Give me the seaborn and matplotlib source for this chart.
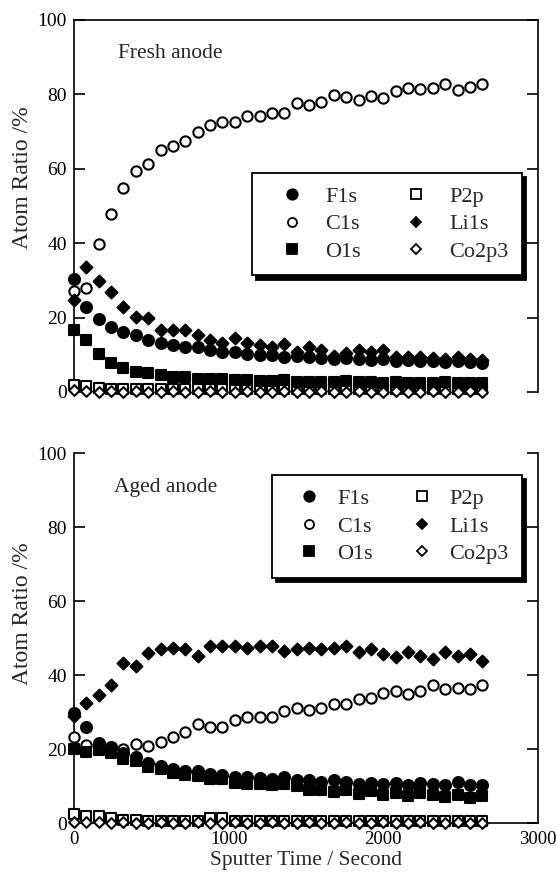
import matplotlib
matplotlib.use("Agg")
import matplotlib.pyplot as plt
from matplotlib.lines import Line2D
import seaborn as sns
import pandas as pd

# ---------------- data ----------------
time_s = [0, 80, 160, 240, 320, 400, 480, 560, 640, 720, 800, 880, 960, 1040,
          1120, 1200, 1280, 1360, 1440, 1520, 1600, 1680, 1760, 1840, 1920, 2000,
          2080, 2160, 2240, 2320, 2400, 2480, 2560, 2640]

# Fresh anode
fresh_F1s = [30.3, 22.8, 19.6, 17.6, 16.0, 15.3, 14.0, 13.3, 12.6, 12.0, 12.0, 11.3,
             10.8, 10.8, 10.2, 9.9, 9.9, 9.5, 9.7, 9.3, 9.2, 9.0, 9.1, 8.8, 8.7, 8.8,
             8.4, 8.5, 8.3, 8.2, 8.1, 8.3, 8.0, 7.9]
fresh_C1s = [27.2, 27.9, 39.8, 47.8, 54.8, 59.5, 61.2, 65.1, 66.1, 67.6, 69.8, 71.8,
             72.5, 72.5, 74.2, 74.2, 75.1, 75.1, 77.6, 77.2, 78.0, 79.8, 79.2, 78.5,
             79.6, 78.9, 81.0, 81.8, 81.4, 81.6, 82.7, 81.2, 82.1, 82.7]
fresh_O1s = [16.8, 14.0, 10.2, 7.7, 6.4, 5.5, 5.0, 4.6, 4.1, 3.9, 3.5, 3.6, 3.4, 3.1,
             3.2, 3.0, 2.9, 3.1, 2.8, 2.7, 2.8, 2.6, 2.9, 2.7, 2.6, 2.5, 2.7, 2.5, 2.4,
             2.5, 2.6, 2.4, 2.3, 2.4]
fresh_P2p = [1.8, 1.6, 1.1, 0.7, 0.9, 0.8, 0.9, 0.7, 0.8, 0.7, 0.8, 0.7, 0.8, 0.7,
             0.7, 0.8, 0.7, 0.8, 0.7, 0.7, 0.8, 0.7, 0.8, 0.7, 0.7, 0.8, 0.7, 0.7, 0.8,
             0.7, 0.7, 0.8, 0.7, 0.7]
fresh_Li1s = [24.7, 33.7, 29.9, 26.8, 22.9, 20.1, 19.8, 16.8, 16.8, 16.8, 15.3, 14.0,
              13.1, 14.6, 13.1, 12.7, 12.2, 12.9, 10.8, 12.0, 11.4, 9.8, 10.4, 11.4,
              10.8, 11.3, 9.5, 9.5, 9.5, 9.2, 9.0, 9.5, 9.0, 8.6]
fresh_Co2p3 = [0.5, 0.2, 0.1, 0.2, 0.1, 0.2, 0.1, 0.1, 0.2, 0.1, 0.1, 0.2, 0.1, 0.1,
               0.2, 0.1, 0.1, 0.2, 0.1, 0.1, 0.2, 0.1, 0.1, 0.2, 0.1, 0.1, 0.2, 0.1,
               0.1, 0.2, 0.1, 0.1, 0.2, 0.1]

# Aged anode
aged_F1s = [29.8, 26.0, 21.5, 20.5, 19.0, 17.8, 16.3, 15.4, 14.6, 14.0, 14.0, 13.2,
            13.0, 12.4, 12.5, 12.2, 12.0, 12.3, 11.6, 11.5, 11.1, 11.7, 11.0, 10.6,
            10.8, 10.5, 10.9, 10.4, 10.7, 10.5, 10.2, 11.0, 10.4, 10.3]
aged_C1s = [23.3, 21.0, 20.3, 20.6, 19.9, 21.4, 20.9, 22.0, 23.3, 24.5, 26.7, 25.9,
            25.9, 27.9, 28.6, 28.6, 28.6, 30.3, 31.2, 30.5, 31.2, 32.1, 32.1, 33.4,
            33.9, 35.2, 35.7, 35.0, 35.7, 37.3, 36.1, 36.4, 36.1, 37.3]
aged_O1s = [19.9, 19.1, 19.6, 19.0, 17.4, 16.8, 15.2, 14.5, 13.5, 13.0, 12.8, 12.0,
            11.8, 10.8, 10.6, 10.5, 10.3, 10.6, 10.0, 8.8, 9.0, 8.5, 9.0, 7.8, 8.7,
            7.5, 8.2, 7.4, 8.0, 7.6, 7.0, 7.6, 6.8, 7.2]
aged_P2p = [2.5, 1.8, 1.8, 1.3, 0.9, 0.8, 0.5, 0.5, 0.5, 0.5, 0.6, 1.3, 1.3, 0.5,
            0.5, 0.5, 0.5, 0.5, 0.5, 0.5, 0.5, 0.5, 0.5, 0.5, 0.5, 0.6, 0.5, 0.5,
            0.5, 0.5, 0.5, 0.5, 0.5, 0.5]
aged_Li1s = [29.0, 32.3, 34.6, 37.3, 43.2, 42.3, 45.9, 47.0, 47.4, 47.0, 45.1, 47.8,
             47.9, 47.9, 47.4, 47.9, 47.9, 46.5, 47.0, 47.4, 47.0, 47.4, 47.9, 46.1,
             47.0, 45.7, 44.8, 46.1, 45.2, 44.3, 46.1, 45.2, 45.7, 43.9]
aged_Co2p3 = [0.3, 0.2, 0.2, 0.1, 0.2, 0.1, 0.1, 0.2, 0.1, 0.1, 0.2, 0.1, 0.1, 0.2,
              0.1, 0.1, 0.2, 0.1, 0.1, 0.2, 0.1, 0.1, 0.2, 0.1, 0.1, 0.2, 0.1, 0.1,
              0.2, 0.1, 0.1, 0.2, 0.1, 0.1]

panel_titles = ["Fresh anode", "Aged anode"]
legend_order = ["F1s", "C1s", "O1s", "P2p", "Li1s", "Co2p3"]
draw_order = ["P2p", "C1s", "O1s", "F1s", "Li1s", "Co2p3"]
x_ticks = [0, 1000, 2000, 3000]
y_ticks = [0, 20, 40, 60, 80, 100]

panels = [
    {"F1s": fresh_F1s, "C1s": fresh_C1s, "O1s": fresh_O1s,
     "P2p": fresh_P2p, "Li1s": fresh_Li1s, "Co2p3": fresh_Co2p3},
    {"F1s": aged_F1s, "C1s": aged_C1s, "O1s": aged_O1s,
     "P2p": aged_P2p, "Li1s": aged_Li1s, "Co2p3": aged_Co2p3},
]

# marker styles: (marker, face, scatter size, legend markersize)
styles = {
    "F1s": ("o", "black", 62, 7.5),
    "C1s": ("o", "white", 55, 6.5),
    "O1s": ("s", "black", 58, 7.0),
    "P2p": ("s", "white", 52, 6.5),
    "Li1s": ("D", "black", 36, 5.5),
    "Co2p3": ("D", "white", 30, 5.0),
}

# legend layout per panel
legend_cfg = [
    dict(top=0.589, handlelength=2.4, handletextpad=0.3, columnspacing=1.3),
    dict(top=0.9405, handlelength=2.2, handletextpad=0.15, columnspacing=1.1),
]

sns.set_theme(style="white")
plt.rcParams['font.family'] = ['Liberation Serif', 'DejaVu Serif']

W, H = 556, 873
fig = plt.figure(figsize=(W / 100, H / 100), dpi=100)
ax1 = fig.add_axes([74 / W, 1 - 392 / H, 464 / W, 372 / H])
ax2 = fig.add_axes([74 / W, 1 - 823 / H, 464 / W, 370 / H])
axes = [ax1, ax2]

for k, (ax, data) in enumerate(zip(axes, panels)):
    for name in draw_order:
        m, fc, s, _ = styles[name]
        df = pd.DataFrame({"t": time_s, "v": data[name]})
        sns.scatterplot(data=df, x="t", y="v", ax=ax, marker=m, s=s,
                        color=fc, edgecolor="black", linewidth=1.5,
                        legend=False, clip_on=False, zorder=3)
    ax.set_xlim(0, 3000)
    ax.set_ylim(0, 100)
    ax.set_yticks(y_ticks)
    ax.set_xticks(x_ticks)
    ax.set_xlabel("")
    ax.set_ylabel("Atom Ratio /%", fontsize=17)
    for sp in ax.spines.values():
        sp.set_color("black")
        sp.set_linewidth(1.2)
    ax.tick_params(axis="y", which="both", direction="in", left=True, right=True,
                   length=8, width=1.2, labelsize=14, pad=5, colors="black")
    ax.tick_params(axis="x", which="both", direction="in", bottom=False, top=False,
                   length=0, labelsize=13.5, pad=6, colors="black")
    handles = []
    for name in legend_order:
        m, fc, _, ms = styles[name]
        handles.append(Line2D([], [], linestyle="none", marker=m, markersize=ms,
                              markerfacecolor=fc, markeredgecolor="black",
                              markeredgewidth=1.3, label=name))
    cfg = legend_cfg[k]
    leg = ax.legend(handles=handles, ncol=2, loc="upper right",
                    bbox_to_anchor=(0.9655, cfg["top"]), borderaxespad=0,
                    fontsize=16, frameon=True, fancybox=False,
                    shadow={"ox": 3, "oy": -3, "facecolor": "black",
                            "edgecolor": "black", "alpha": 1},
                    handlelength=cfg["handlelength"],
                    handletextpad=cfg["handletextpad"],
                    columnspacing=cfg["columnspacing"],
                    labelspacing=0.32, borderpad=0.6)
    leg.get_frame().set_edgecolor("black")
    leg.get_frame().set_linewidth(1.3)
    leg.get_frame().set_facecolor("white")
    leg.get_frame().set_alpha(1)

ax1.spines["bottom"].set_visible(False)
ax2.spines["top"].set_visible(False)
ax1.tick_params(axis="x", labelbottom=False)

ax1.text(285, 91.0, panel_titles[0], fontsize=15.5, ha="left", va="center")
ax2.text(258, 90.8, panel_titles[1], fontsize=15.5, ha="left", va="center")

ax1.yaxis.set_label_coords(-0.088, 0.575)
ax2.yaxis.set_label_coords(-0.088, 0.565)
ax2.set_xlabel("Sputter Time / Second", fontsize=15.5, labelpad=2)

fig.savefig("out.png", dpi=100)
